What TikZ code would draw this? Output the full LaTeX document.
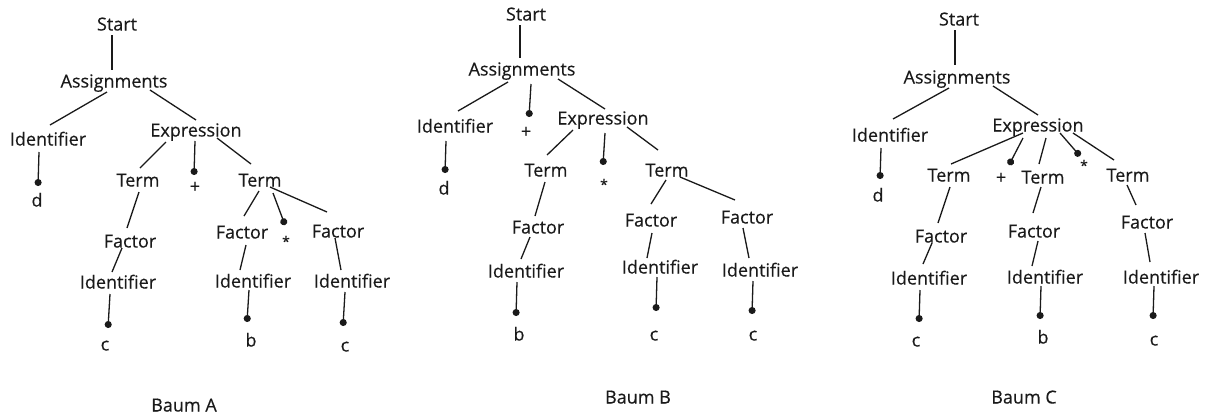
\documentclass[tikz,border=0pt]{standalone}
\usepackage{fontspec}
\setmainfont{Open Sans}
\newfontfamily\treefont{Open Sans}[FakeBold=0.35]
\usetikzlibrary{arrows.meta}
\definecolor{ink}{HTML}{1A1A1A}
\tikzset{
  lbl/.style={inner sep=0pt, text height=13pt, text depth=0pt, font=\treefont\fontsize{18}{20}\selectfont, text=ink},
  starlbl/.style={inner sep=0pt, text height=13pt, text depth=0pt, font=\treefont\fontsize{14}{16}\selectfont, text=ink},
  edge/.style={draw=ink, line width=1.3pt},
  leaf/.style={edge, -{Circle[length=7pt]}},
}
\newcommand\lnk[4]{\draw[edge] ([shift={(#2)}]#1.center) -- ([shift={(#4)}]#3.center);}
\newcommand\lnkd[4]{\draw[leaf] ([shift={(#2)}]#1.center) -- ([shift={(#4)}]#3.center);}
\begin{document}
\begin{tikzpicture}[x=1pt,y=-1pt]
\fill[white] (0,0) rectangle (1206,416);
\useasboundingbox (0,0) rectangle (1206,416);
% ---------------- Baum A ----------------
\node[lbl] (aS) at (117,24) {Start};
\node[lbl] (aA) at (114,81) {Assignments};
\node[lbl] (aI) at (48,139) {Identifier};
\node[lbl] (aE) at (196,130) {Expression};
\node[lbl] (ad) at (37,200) {d};
\node[lbl] (aT1) at (138,180) {Term};
\node[lbl] (aplus) at (195,186) {+};
\node[lbl] (aT2) at (260,180) {Term};
\node[lbl] (aF1) at (130,241) {Factor};
\node[lbl] (aI1) at (118,282) {Identifier};
\node[lbl] (ac1) at (105,344) {c};
\node[lbl] (aF2) at (242,232) {Factor};
\node[starlbl] (astar) at (286,240) {*};
\node[lbl] (aF3) at (338,231) {Factor};
\node[lbl] (aI2) at (253,281) {Identifier};
\node[lbl] (ab) at (251,340) {b};
\node[lbl] (aI3) at (352,281) {Identifier};
\node[lbl] (ac2) at (345,345) {c};
\node[lbl] (aBaum) at (184,405) {Baum A};
\lnk{aS}{-5,11}{aA}{-2,-11}
\lnk{aA}{-7,11}{aI}{2,-14}
\lnk{aA}{36,9}{aE}{0,-10}
\lnkd{aI}{-9,13}{ad}{1,-14}
\lnk{aE}{-30,12}{aT1}{2,-12}
\lnkd{aE}{-1,11}{aplus}{-1,-11}
\lnk{aE}{21,8}{aT2}{-9,-16}
\lnk{aT1}{1,12}{aF1}{-3,-13}
\lnk{aF1}{-8,7}{aI1}{-6,-10}
\lnkd{aI1}{-8,12}{ac1}{3,-16}
\lnk{aT2}{-1,11}{aF2}{2,-16}
\lnkd{aT2}{13,13}{astar}{-1,-15}
\lnk{aT2}{10,7}{aF3}{-11,-19}
\lnk{aF2}{4,13}{aI2}{-13,-11}
\lnk{aF3}{-3,7}{aI3}{-11,-11}
\lnkd{aI2}{-4,9}{ab}{-4,-18}
\lnkd{aI3}{-7,11}{ac2}{-2,-19}
% ---------------- Baum B ----------------
\node[lbl] (bS) at (526,14) {Start};
\node[lbl] (bA) at (522,69) {Assignments};
\node[lbl] (bI) at (455,126) {Identifier};
\node[lbl] (bplus) at (526,131) {+};
\node[lbl] (bE) at (603,118) {Expression};
\node[lbl] (bd) at (444,188) {d};
\node[lbl] (bT1) at (546,170) {Term};
\node[starlbl] (bstar) at (604,183) {*};
\node[lbl] (bT2) at (667,170) {Term};
\node[lbl] (bF1) at (538,227) {Factor};
\node[lbl] (bI1) at (526,271) {Identifier};
\node[lbl] (bb) at (519,334) {b};
\node[lbl] (bF2) at (651,220) {Factor};
\node[lbl] (bF3) at (747,217) {Factor};
\node[lbl] (bI2) at (660,267) {Identifier};
\node[lbl] (bc1) at (654,334) {c};
\node[lbl] (bI3) at (760,270) {Identifier};
\node[lbl] (bc2) at (753,334) {c};
\node[lbl] (bBaum) at (638,397) {Baum B};
\lnk{bS}{-6,11}{bA}{-2,-11}
\lnk{bA}{-14,13}{bI}{3,-15}
\lnkd{bA}{9,15}{bplus}{3,-14}
\lnk{bA}{36,10}{bE}{2,-9}
\lnkd{bI}{-9,15}{bd}{1,-15}
\lnk{bE}{-30,12}{bT1}{1,-15}
\lnkd{bE}{2,15}{bstar}{-1,-18}
\lnk{bE}{24,9}{bT2}{-9,-20}
\lnk{bT1}{-1,12}{bF1}{-3,-11}
\lnk{bF1}{-8,10}{bI1}{-5,-12}
\lnkd{bI1}{-9,11}{bb}{-3,-18}
\lnk{bT2}{-1,10}{bF2}{0,-16}
\lnk{bT2}{13,7}{bF3}{-12,-17}
\lnk{bF2}{1,13}{bI2}{-13,-9}
\lnk{bF3}{-4,11}{bI3}{-11,-12}
\lnkd{bI2}{-3,10}{bc1}{2,-23}
\lnkd{bI3}{-7,11}{bc2}{-1,-20}
% ---------------- Baum C ----------------
\node[lbl] (cS) at (959,19) {Start};
\node[lbl] (cA) at (957,77) {Assignments};
\node[lbl] (cI) at (890,135) {Identifier};
\node[lbl] (cE) at (1038,125) {Expression};
\node[lbl] (cd) at (878,195) {d};
\node[lbl] (cT1) at (949,175) {Term};
\node[lbl] (cplus) at (1001,177) {+};
\node[lbl] (cT2) at (1043,177) {Term};
\node[starlbl] (cstar) at (1084,164) {*};
\node[lbl] (cT3) at (1128,175) {Term};
\node[lbl] (cF1) at (941,236) {Factor};
\node[lbl] (cI1) at (929,278) {Identifier};
\node[lbl] (cc1) at (916,340) {c};
\node[lbl] (cF2) at (1034,231) {Factor};
\node[lbl] (cI2) at (1045,277) {Identifier};
\node[lbl] (cb) at (1043,337) {b};
\node[lbl] (cF3) at (1147,222) {Factor};
\node[lbl] (cI3) at (1161,277) {Identifier};
\node[lbl] (cc2) at (1154,339) {c};
\node[lbl] (cBaum) at (1024,397) {Baum C};
\lnk{cS}{-4,11}{cA}{-2,-12}
\lnk{cA}{-8,11}{cI}{3,-16}
\lnk{cA}{36,9}{cE}{0,-10}
\lnkd{cI}{-9,13}{cd}{2,-16}
\lnk{cE}{-15,8}{cT1}{2,-11}
\lnkd{cE}{-15,13}{cplus}{8,-12}
\lnk{cE}{8,13}{cT2}{-4,-13}
\lnkd{cE}{22,8}{cstar}{-4,-8}
\lnk{cE}{35,8}{cT3}{-14,-15}
\lnk{cT1}{1,12}{cF1}{-3,-13}
\lnk{cF1}{-9,7}{cI1}{-6,-14}
\lnkd{cI1}{-9,12}{cc1}{3,-18}
\lnk{cT2}{-2,10}{cF2}{-1,-18}
\lnk{cF2}{4,10}{cI2}{-13,-11}
\lnkd{cI2}{-4,9}{cb}{-3,-18}
\lnk{cT3}{-1,10}{cF3}{-11,-17}
\lnk{cF3}{-2,11}{cI3}{-11,-15}
\lnkd{cI3}{-7,9}{cc2}{-1,-20}
\end{tikzpicture}
\end{document}
